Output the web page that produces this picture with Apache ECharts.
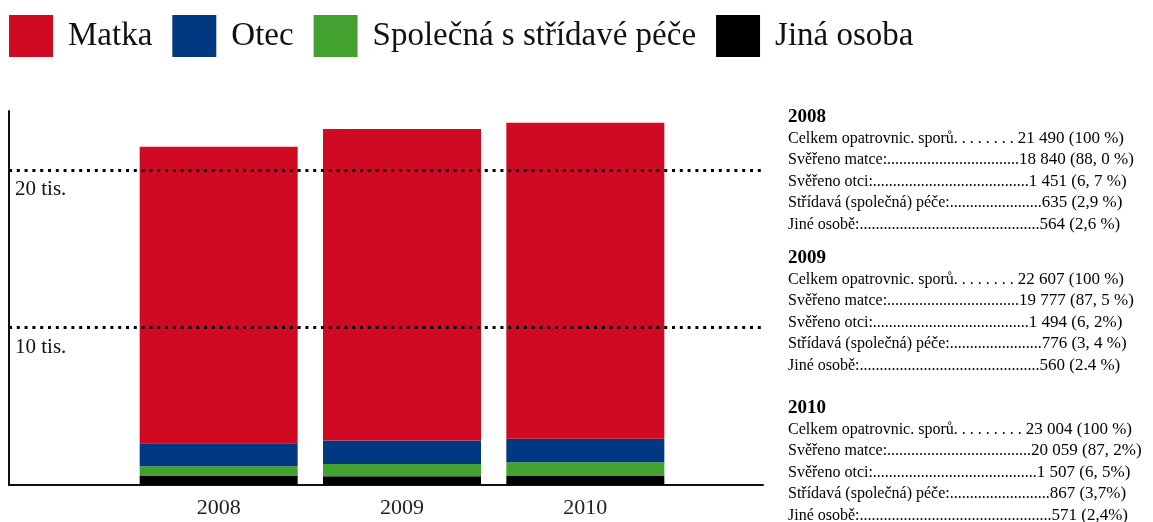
<!DOCTYPE html>
<html>
<head>
<meta charset="utf-8">
<script src="https://cdn.jsdelivr.net/npm/echarts@6/dist/echarts.min.js"></script>
<style>
  html, body { margin: 0; padding: 0; background: #fff; }
  #chart { width: 1153px; height: 522px; }
</style>
</head>
<body>
<div id="chart"></div>
<script>
// data
const years = ['2008', '2009', '2010'];
const matka = [18840, 19777, 20059];
const otec = [1451, 1494, 1507];
const spolecna = [635, 776, 867];
const jina = [564, 560, 571];
const rowLabels = ['Celkem opatrovnic. sporů', 'Svěřeno matce:', 'Svěřeno otci:', 'Střídavá (společná) péče:', 'Jiné osobě:'];
const percentLabels = [
  ['100 %', '88, 0 %', '6, 7 %', '2,9 %', '2,6 %'],
  ['100 %', '87, 5 %', '6, 2%', '3, 4 %', '2.4 %'],
  ['100 %', '87, 2%', '6, 5%', '3,7%', '2,4%']
];

const colors = { matka: '#cf0a22', otec: '#003882', spolecna: '#43a22f', jina: '#000000' };
const serif = '"Liberation Serif", "Times New Roman", serif';
const yMax = 23758;

const chart = echarts.init(document.getElementById('chart'));

// 21490 -> "21 490"
function fmt(n) {
  return String(n).replace(/\B(?=(\d{3})+(?!\d))/g, ' ');
}

// pad the row label with dots so that the number ends at "width"
const ctx = document.createElement('canvas').getContext('2d');
function leader(label, num, width, dot) {
  ctx.font = '17px ' + serif;
  const numW = ctx.measureText(num).width;
  ctx.font = '16px ' + serif;
  let s = label;
  while (ctx.measureText(s + dot).width + numW <= width) s += dot;
  return s;
}

const panelX = 788;
const blockTop = [117, 258, 408];
const numRight = [1068, 1068, 1078];
const lineH = 21.5;
const graphics = [];
years.forEach((y, i) => {
  const vals = [matka[i] + otec[i] + spolecna[i] + jina[i], matka[i], otec[i], spolecna[i], jina[i]];
  graphics.push({
    type: 'text', x: panelX, y: blockTop[i],
    style: { text: y, font: 'bold 19px ' + serif, fill: '#000', verticalAlign: 'middle' }
  });
  rowLabels.forEach((lab, j) => {
    const num = fmt(vals[j]);
    const head = leader(lab, num, numRight[i] - panelX, j === 0 ? '. ' : '.');
    graphics.push({
      type: 'text', x: panelX, y: blockTop[i] + lineH * (j + 1),
      style: {
        text: '{t|' + head + '}{n|' + num + ' (' + percentLabels[i][j] + ')}',
        verticalAlign: 'middle',
        rich: {
          t: { fontFamily: serif, fontSize: 16, color: '#111' },
          n: { fontFamily: serif, fontSize: 17, color: '#111' }
        }
      }
    });
  });
});

function barSeries(name, data, color) {
  return {
    name: name,
    type: 'bar',
    stack: 'total',
    xAxisIndex: 1,
    yAxisIndex: 1,
    barWidth: 158,
    itemStyle: { color: color },
    data: data
  };
}

const option = {
  animation: false,
  legend: {
    left: 9,
    top: 15,
    padding: 0,
    itemWidth: 44,
    itemHeight: 42,
    itemGap: 20,
    icon: 'rect',
    data: ['Matka', 'Otec', 'Společná s střídavé péče', 'Jiná osoba'],
    textStyle: { fontFamily: serif, fontSize: 33, color: '#111', padding: [0, 0, 0, 10] }
  },
  grid: [
    // frame with axes and dotted lines
    { left: 9, right: 1153 - 763, top: 111, bottom: 522 - 485 },
    // bars
    { left: 127, right: 1153 - 677, top: 111, bottom: 522 - 485 }
  ],
  xAxis: [
    {
      type: 'value', gridIndex: 0, min: 0, max: 1,
      axisLine: { show: true, lineStyle: { color: '#111', width: 2 } },
      axisTick: { show: false }, axisLabel: { show: false }, splitLine: { show: false }
    },
    {
      type: 'category', gridIndex: 1, data: years,
      axisLine: { show: false }, axisTick: { show: false },
      axisLabel: { fontFamily: serif, fontSize: 22, color: '#222', margin: 12 }
    }
  ],
  yAxis: [
    {
      type: 'value', gridIndex: 0, min: 0, max: yMax, interval: 10000, z: 10,
      axisLine: { show: true, lineStyle: { color: '#111', width: 2 } },
      axisTick: { show: false },
      axisLabel: {
        inside: true, margin: 6, showMaxLabel: false,
        fontFamily: serif, fontSize: 21, color: '#111',
        verticalAlign: 'top', padding: [9, 0, 0, 0],
        formatter: v => (v ? v / 1000 + ' tis.' : '')
      },
      splitLine: {
        show: true, showMinLine: false, showMaxLine: false,
        lineStyle: { color: '#000', width: 3, type: [3, 4.8] }
      }
    },
    { type: 'value', gridIndex: 1, min: 0, max: yMax, show: false }
  ],
  graphic: graphics,
  series: [
    barSeries('Jiná osoba', jina, colors.jina),
    barSeries('Společná s střídavé péče', spolecna, colors.spolecna),
    barSeries('Otec', otec, colors.otec),
    barSeries('Matka', matka, colors.matka)
  ]
};

chart.setOption(option);
</script>
</body>
</html>
